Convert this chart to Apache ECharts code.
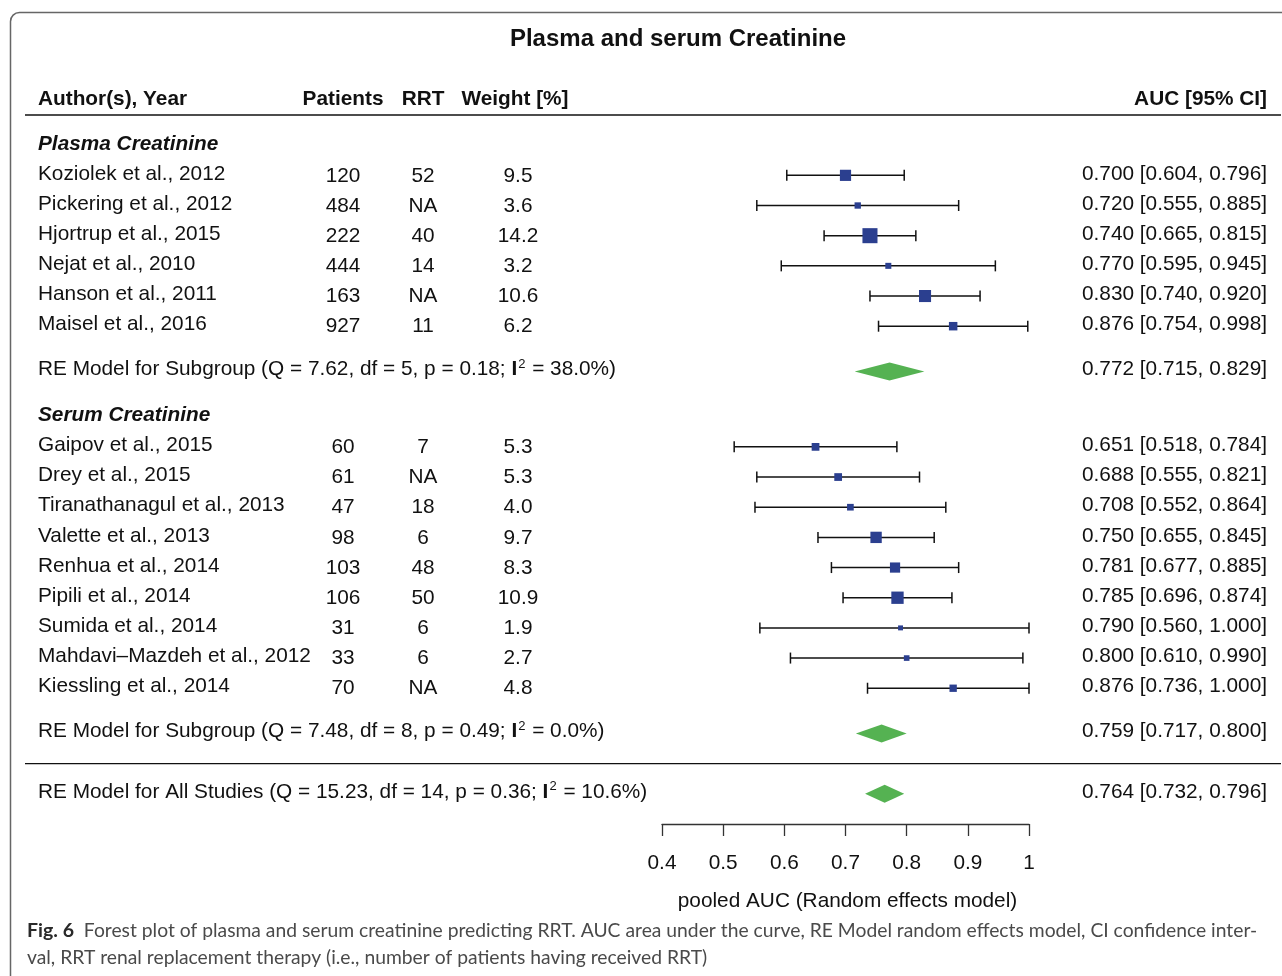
<!DOCTYPE html>
<html>
<head>
<meta charset="utf-8">
<title>Plasma and serum Creatinine</title>
<script src="https://cdn.jsdelivr.net/npm/echarts@6/dist/echarts.min.js"></script>
<style>
  html, body { margin: 0; padding: 0; background: #fff; }
  #main { width: 1282px; height: 976px; }
</style>
</head>
<body>
<div id="main"></div>
<script>
// ---- study data ----
const groupNames = ['Plasma Creatinine', 'Serum Creatinine'];
const studyGroup = [0, 0, 0, 0, 0, 0, 1, 1, 1, 1, 1, 1, 1, 1, 1];
const studies = [
  'Koziolek et al., 2012', 'Pickering et al., 2012', 'Hjortrup et al., 2015',
  'Nejat et al., 2010', 'Hanson et al., 2011', 'Maisel et al., 2016',
  'Gaipov et al., 2015', 'Drey et al., 2015', 'Tiranathanagul et al., 2013',
  'Valette et al., 2013', 'Renhua et al., 2014', 'Pipili et al., 2014',
  'Sumida et al., 2014', 'Mahdavi\u2013Mazdeh et al., 2012', 'Kiessling et al., 2014'
];
const patients = [120, 484, 222, 444, 163, 927, 60, 61, 47, 98, 103, 106, 31, 33, 70];
const rrt = ['52', 'NA', '40', '14', 'NA', '11', '7', 'NA', '18', '6', '48', '50', '6', '6', 'NA'];
const weight = [9.5, 3.6, 14.2, 3.2, 10.6, 6.2, 5.3, 5.3, 4.0, 9.7, 8.3, 10.9, 1.9, 2.7, 4.8];
const auc = [0.700, 0.720, 0.740, 0.770, 0.830, 0.876, 0.651, 0.688, 0.708, 0.750, 0.781, 0.785, 0.790, 0.800, 0.876];
const lower = [0.604, 0.555, 0.665, 0.595, 0.740, 0.754, 0.518, 0.555, 0.552, 0.655, 0.677, 0.696, 0.560, 0.610, 0.736];
const upper = [0.796, 0.885, 0.815, 0.945, 0.920, 0.998, 0.784, 0.821, 0.864, 0.845, 0.885, 0.874, 1.000, 0.990, 1.000];

// ---- pooled random-effects estimates (plasma, serum, all) ----
const pooledNames = ['RE Model for Subgroup', 'RE Model for Subgroup', 'RE Model for All Studies'];
const pooledQ = ['7.62', '7.48', '15.23'];
const pooledDf = ['5', '8', '14'];
const pooledP = ['0.18', '0.49', '0.36'];
const pooledI2 = ['38.0', '0.0', '10.6'];
const pooledEst = [0.772, 0.759, 0.764];
const pooledLo = [0.715, 0.717, 0.732];
const pooledHi = [0.829, 0.800, 0.796];

// ---- axis ----
const axisTicks = [0.4, 0.5, 0.6, 0.7, 0.8, 0.9, 1];
const axisTickLabels = ['0.4', '0.5', '0.6', '0.7', '0.8', '0.9', '1'];
const axisTitle = 'pooled AUC (Random effects model)';
const plotTitle = 'Plasma and serum Creatinine';
const captionLines = [
  'Forest plot of plasma and serum creatinine predicting RRT. AUC area under the curve, RE Model random effects model, CI confidence inter-',
  'val, RRT renal replacement therapy (i.e., number of patients having received RRT)'
];

// ---- row layout (one unit per study line) ----
const groupHeadRow = [], studyRow = [], pooledRow = [];
let r = 1;
groupNames.forEach((g, gi) => {
  groupHeadRow.push(r); r += 1;
  studyGroup.forEach((sg, i) => { if (sg === gi) { studyRow[i] = r; r += 1; } });
  pooledRow.push(r + 0.5); r += 2;
});
const separatorRow = r - 0.5;
pooledRow.push(r + 0.5);
const yMax = r + 1.5;

const FONT = '"Liberation Sans", Arial, Helvetica, sans-serif';
const FS = 20.8;
const INK = '#111';
const CAP_FONT = 'Lato, "Open Sans", sans-serif';
const COL = { author: 38, patients: 343, rrt: 423, weight: 518, auc: 1267, ruleL: 25, ruleR: 1281 };

const fmt3 = v => v.toFixed(3);
const ciText = (e, l, h) => `${fmt3(e)} [${fmt3(l)}, ${fmt3(h)}]`;

function textEl(x, y, text, align, extra) {
  return {
    type: 'text', x, y,
    style: Object.assign({
      text, fill: INK, fontFamily: FONT, fontSize: FS,
      align: align, verticalAlign: 'middle'
    }, extra || {})
  };
}

const studyData = studies.map((s, i) => [auc[i], lower[i], upper[i], studyRow[i], weight[i], i]);
const pooledData = pooledEst.map((e, k) => [e, pooledLo[k], pooledHi[k], pooledRow[k], k]);

const chart = echarts.init(document.getElementById('main'), null, { renderer: 'canvas' });

chart.setOption({
  animation: false,
  backgroundColor: '#fff',
  grid: { left: 662, right: 253, top: 115, bottom: 152, containLabel: false },
  xAxis: {
    type: 'value',
    min: axisTicks[0], max: axisTicks[axisTicks.length - 1], interval: 0.1,
    position: 'bottom',
    axisLine: { show: true, onZero: false, lineStyle: { color: '#333', width: 1.3 } },
    axisTick: { show: true, inside: false, length: 12, lineStyle: { color: '#333', width: 1.3 } },
    splitLine: { show: false },
    axisLabel: {
      margin: 29, fontSize: FS, color: INK, fontFamily: FONT,
      formatter: v => {
        const k = axisTicks.findIndex(t => Math.abs(t - v) < 1e-9);
        return k >= 0 ? axisTickLabels[k] : '';
      }
    },
    name: axisTitle, nameLocation: 'middle', nameGap: 67,
    nameTextStyle: { fontSize: FS, color: INK, fontFamily: FONT, padding: [0, 0, 0, 4] }
  },
  yAxis: { type: 'value', inverse: true, min: 0, max: yMax, show: false },
  graphic: [
    {
      type: 'rect', silent: true,
      shape: { x: 10.5, y: 12.5, width: 1500, height: 1200, r: 9 },
      style: { fill: 'none', stroke: '#666', lineWidth: 1.5 }
    },
    {
      type: 'text', x: 678, y: 39,
      style: {
        text: plotTitle, fill: INK, fontFamily: FONT, fontSize: 24, fontWeight: 'bold',
        align: 'center', verticalAlign: 'middle'
      }
    },
    {
      type: 'text', x: 27, y: 931,
      style: {
        text: '{b|Fig. 6}  ' + captionLines[0],
        fill: '#4a4a4a', fontFamily: CAP_FONT, fontSize: 19.3,
        verticalAlign: 'middle',
        rich: { b: { fontFamily: CAP_FONT, fontSize: 19.5, fontWeight: 'bold', fill: '#2a2a2a', color: '#2a2a2a' } }
      }
    },
    {
      type: 'text', x: 27, y: 958,
      style: {
        text: captionLines[1],
        fill: '#4a4a4a', fontFamily: CAP_FONT, fontSize: 19.3,
        verticalAlign: 'middle'
      }
    }
  ],
  series: [
    // column headers, group titles and horizontal rules
    {
      type: 'custom',
      name: 'table',
      coordinateSystem: 'cartesian2d',
      clip: false,
      silent: true,
      data: [[0.4, 0]],
      encode: { x: 0, y: 1 },
      renderItem: (params, api) => {
        const top = api.coord([0.4, 0])[1];
        const sep = api.coord([0.4, separatorRow])[1];
        const hy = top - 16;
        const bold = { fontWeight: 'bold' };
        const kids = [
          { type: 'line', shape: { x1: COL.ruleL, y1: top, x2: COL.ruleR, y2: top }, style: { stroke: INK, lineWidth: 1.3 } },
          { type: 'line', shape: { x1: COL.ruleL, y1: sep, x2: COL.ruleR, y2: sep }, style: { stroke: INK, lineWidth: 1.3 } },
          textEl(COL.author, hy, 'Author(s), Year', 'left', bold),
          textEl(COL.patients, hy, 'Patients', 'center', bold),
          textEl(COL.rrt, hy, 'RRT', 'center', bold),
          textEl(COL.weight - 3, hy, 'Weight [%]', 'center', bold),
          textEl(COL.auc, hy, 'AUC [95% CI]', 'right', bold)
        ];
        groupNames.forEach((g, gi) => {
          const y = api.coord([0.4, groupHeadRow[gi]])[1] - 1;
          kids.push(textEl(COL.author, y, g, 'left', { fontWeight: 'bold', fontStyle: 'italic' }));
        });
        return { type: 'group', children: kids };
      }
    },
    // individual studies: CI whisker, weighted square and table columns
    {
      type: 'custom',
      name: 'studies',
      coordinateSystem: 'cartesian2d',
      clip: false,
      data: studyData,
      encode: { x: [0, 1, 2], y: 3 },
      renderItem: (params, api) => {
        const i = api.value(5);
        const pe = api.coord([api.value(0), api.value(3)]);
        const xl = api.coord([api.value(1), api.value(3)])[0];
        const xh = api.coord([api.value(2), api.value(3)])[0];
        const y = pe[1];
        const s = 3.4 + 0.82 * api.value(4);
        const lw = { stroke: INK, lineWidth: 1.5 };
        return {
          type: 'group',
          children: [
            { type: 'line', shape: { x1: xl, y1: y, x2: xh, y2: y }, style: lw },
            { type: 'line', shape: { x1: xl, y1: y - 5.5, x2: xl, y2: y + 5.5 }, style: lw },
            { type: 'line', shape: { x1: xh, y1: y - 5.5, x2: xh, y2: y + 5.5 }, style: lw },
            { type: 'rect', shape: { x: pe[0] - s / 2, y: y - s / 2, width: s, height: s }, style: { fill: '#2b3f8f' } },
            textEl(COL.author, y - 1.5, studies[i], 'left'),
            textEl(COL.patients, y + 0.5, String(patients[i]), 'center'),
            textEl(COL.rrt, y + 0.5, rrt[i], 'center'),
            textEl(COL.weight, y + 0.5, weight[i].toFixed(1), 'center'),
            textEl(COL.auc, y - 1.5, ciText(auc[i], lower[i], upper[i]), 'right')
          ]
        };
      }
    },
    // pooled random-effects diamonds with their labels
    {
      type: 'custom',
      name: 'pooled',
      coordinateSystem: 'cartesian2d',
      clip: false,
      data: pooledData,
      encode: { x: [0, 1, 2], y: 3 },
      renderItem: (params, api) => {
        const k = api.value(4);
        const pe = api.coord([api.value(0), api.value(3)]);
        const xl = api.coord([api.value(1), api.value(3)])[0];
        const xh = api.coord([api.value(2), api.value(3)])[0];
        const y = pe[1];
        const h = 9;
        const label = `${pooledNames[k]} (Q = ${pooledQ[k]}, df = ${pooledDf[k]}, p = ${pooledP[k]}; {b|I}{sup|2} = ${pooledI2[k]}%)`;
        return {
          type: 'group',
          children: [
            {
              type: 'polygon',
              shape: { points: [[xl, y], [pe[0], y - h], [xh, y], [pe[0], y + h]] },
              style: { fill: '#55b252' }
            },
            textEl(COL.author, y - 2, label, 'left', {
              rich: {
                b: { fontFamily: FONT, fontSize: FS, fontWeight: 'bold', fill: INK, color: INK },
                sup: { fontFamily: FONT, fontSize: 13, fill: INK, color: INK, verticalAlign: 'top', padding: [0, 1, 11, 1] }
              }
            }),
            textEl(COL.auc, y - 2, ciText(pooledEst[k], pooledLo[k], pooledHi[k]), 'right')
          ]
        };
      }
    }
  ]
});
</script>
</body>
</html>
